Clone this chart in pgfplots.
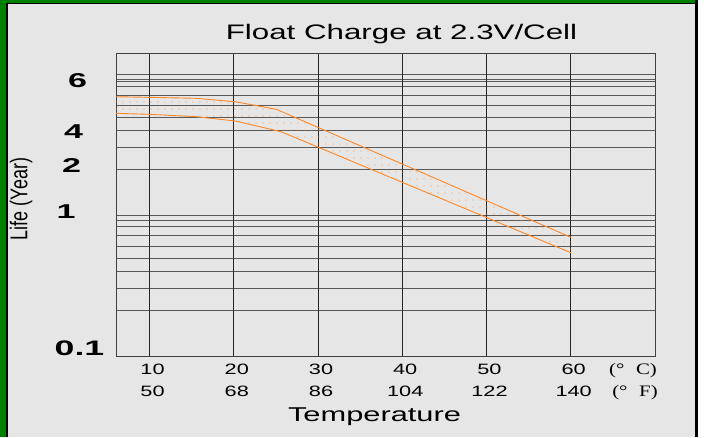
\documentclass[border=0pt]{standalone}
\usepackage{fontspec}
\setmainfont{Liberation Sans}
\newfontfamily\seriffont{Liberation Serif}
\usepackage{pgfplots}
\pgfplotsset{compat=1.18}
\usepgfplotslibrary{fillbetween}
\usetikzlibrary{patterns.meta}
\definecolor{bg}{RGB}{230,230,230}
\definecolor{fgreen}{RGB}{0,128,0}
\definecolor{band}{RGB}{255,135,40}
\begin{document}
\begin{tikzpicture}
\begin{axis}[
  at={(116pt,81pt)}, anchor=south west,
  width=539pt, height=303pt, scale only axis,
  set layers, clip=false,
  xmin=6, xmax=70, ymode=log, ymin=0.1, ymax=14.45,
  xtick={10,20,30,40,50,60},
  xticklabels={\mbox{10},\mbox{20},\mbox{30},\mbox{40},\mbox{50},\mbox{60}},
  xticklabel style={font=\fontsize{15}{18}\selectfont, xscale=1.45, anchor=base, yshift=-18.5pt, xshift=2pt},
  extra x ticks={10,20,30,40,50,60},
  extra x tick labels={\mbox{50},\mbox{68},\mbox{86},\mbox{104},\mbox{122},\mbox{140}},
  extra x tick style={xticklabel style={yshift=-21.7pt}},
  ytick={0.212,0.304,0.401,0.497,0.601,0.72,0.835,0.927,1,2.14,3.05,4.06,5.03,6.12,7.21,8.41,9.12,9.38,10.18},
  yticklabel=\empty,
  yticklabel pos=right,
  yticklabel style={inner sep=0pt},
  yminorticks=false,
  major tick length=0pt,
  xmajorgrids, ymajorgrids,
  x grid style={black!85, line width=1.1pt},
  y grid style={black!65, line width=0.9pt},
  axis line style={black!75, line width=1pt},
]
\begin{pgfonlayer}{axis background}
\fill[white] ([xshift=-116pt,yshift=-81pt]rel axis cs:0,0) rectangle ([xshift=588pt,yshift=356pt]rel axis cs:0,0);
\fill[bg] ([xshift=-116pt,yshift=-81pt]rel axis cs:0,0) rectangle ([xshift=579pt,yshift=356pt]rel axis cs:0,0);
\end{pgfonlayer}
\addplot[name path=up, band, line width=0.9pt] coordinates {(6,7.05) (10,6.98) (15.5,6.87) (20.2,6.49) (25.05,5.73) (60,0.702)};
\addplot[name path=lo, band, line width=0.9pt] coordinates {(6,5.37) (10,5.28) (15.5,5.08) (20.2,4.73) (25.6,3.97) (60,0.545)};
\addplot[draw=none, pattern={Dots[distance=6.5pt, radius=0.75pt]}, pattern color=band!85] fill between[of=up and lo];
\end{axis}
\begin{scope}[x=1pt,y=1pt]
\fill[fgreen] (0,0) rectangle (6,437);
\fill[fgreen] (0,434) rectangle (695,437);
\fill[black] (6,0) rectangle (8,434);
\fill[black] (6,432.5) rectangle (695,434);
\fill[black] (695,0) rectangle (698,437);
\node[anchor=base, font=\fontsize{21}{25}\selectfont, xscale=1.49] at (401.5,397) {Float Charge at 2.3V/Cell};
\node[anchor=base, font=\fontsize{20}{24}\selectfont, xscale=1.54] at (374.5,15.3) {Temperature};
\node[rotate=90, yscale=1.35, font=\fontsize{18}{22}\selectfont] at (21,238) {Life (Year)};
\node[font=\fontsize{20}{24}\bfseries\selectfont, xscale=1.7] at (77.5,356.7) {6};
\node[font=\fontsize{20}{24}\bfseries\selectfont, xscale=1.7] at (73.7,305.3) {4};
\node[font=\fontsize{20}{24}\bfseries\selectfont, xscale=1.7] at (71.7,271) {2};
\node[font=\fontsize{20}{24}\bfseries\selectfont, xscale=1.7] at (66,225) {1};
\node[font=\fontsize{21}{24}\bfseries\selectfont, xscale=1.7] at (79.5,89) {0.1};
\node[anchor=base, font=\seriffont\fontsize{16}{18}\selectfont, xscale=1.3] at (633,62.5) {(°\hspace{9pt}C)};
\node[anchor=base, font=\seriffont\fontsize{16}{18}\selectfont, xscale=1.3] at (635,41) {(°\hspace{9pt}F)};
\end{scope}
\end{tikzpicture}
\end{document}
